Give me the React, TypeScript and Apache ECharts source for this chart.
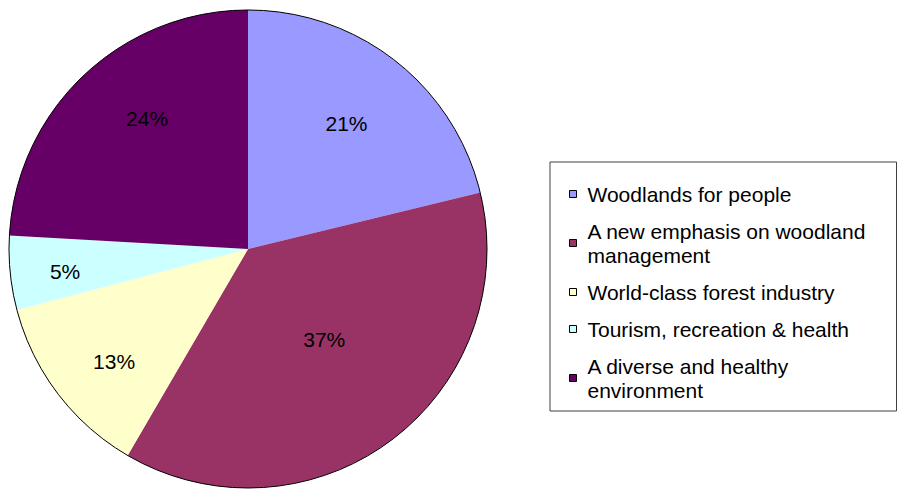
import { useEffect, useRef } from "react";
import * as echarts from "echarts";

const categories = [
  "Woodlands for people",
  "A new emphasis on woodland\nmanagement",
  "World-class forest industry",
  "Tourism, recreation & health",
  "A diverse and healthy\nenvironment",
];
const shares = [21.2, 37.2, 12.5, 5.0, 24.1];
const colors = ["#9999FF", "#993366", "#FFFFCC", "#CCFFFF", "#660066"];
const labelRadiusFactor = [0.667, 0.495, 0.732, 0.771, 0.691];
const labelAngleOffsetDeg = [0, -3.4, -2.8, -1.1, 5.7];

const FONT = "'Liberation Sans', Arial, sans-serif";
const CX = 248;
const CY = 249;
const R = 239;

export default function App() {
  const ref = useRef<HTMLDivElement>(null);
  useEffect(() => {
    if (!ref.current) return;
    const chart = echarts.init(ref.current, undefined, { renderer: "svg" });
    const total = shares.reduce((a, b) => a + b, 0);
    const option: any = {
      animation: false,
      backgroundColor: "#ffffff",
      legend: {
        orient: "vertical",
        left: 550,
        top: 162,
        itemWidth: 7,
        itemHeight: 7,
        itemGap: 13,
        padding: [20, 30, 9, 19],
        borderColor: "#404040",
        borderWidth: 1,
        selectedMode: false,
        icon: "rect",
        itemStyle: { borderColor: "#000", borderWidth: 1 },
        textStyle: {
          fontSize: 21,
          lineHeight: 24,
          fontFamily: FONT,
          color: "#000",
          padding: [0, 0, 0, 6],
        },
        data: categories,
      },
      graphic: [
        {
          type: "circle",
          shape: { cx: CX, cy: CY, r: R },
          style: { fill: "none", stroke: "#000", lineWidth: 1 },
          z: 100,
          silent: true,
        },
      ],
      series: [
        {
          type: "pie",
          center: [CX, CY],
          radius: R,
          startAngle: 90,
          clockwise: true,
          silent: true,
          emphasis: { disabled: true },
          itemStyle: { borderWidth: 0 },
          label: {
            show: true,
            position: "inside",
            fontSize: 21,
            fontFamily: FONT,
            color: "#000",
            formatter: (p: any) => Math.round(p.percent) + "%",
          },
          labelLine: { show: false },
          labelLayout: (params: any) => {
            const i = params.dataIndex;
            let cum = 0;
            for (let k = 0; k < i; k++) cum += shares[k];
            const frac = (cum + shares[i] / 2) / total;
            const ang = frac * Math.PI * 2 + (labelAngleOffsetDeg[i] * Math.PI) / 180;
            const rr = labelRadiusFactor[i] * R;
            return {
              x: CX + rr * Math.sin(ang),
              y: CY - rr * Math.cos(ang),
              align: "center",
              verticalAlign: "middle",
            };
          },
          data: categories.map((name, i) => ({
            name,
            value: shares[i],
            itemStyle: { color: colors[i] },
          })),
        },
      ],
    };
    chart.setOption(option);
    return () => chart.dispose();
  }, []);
  return (
    <div
      ref={ref}
      style={{ position: "fixed", left: 0, top: 0, width: 898, height: 489 }}
    />
  );
}
